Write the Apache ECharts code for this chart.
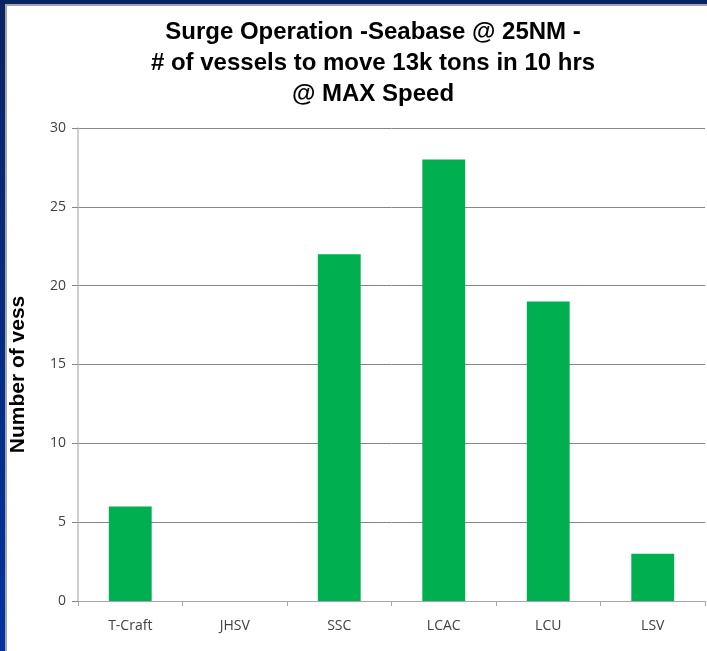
<!DOCTYPE html>
<html>
<head>
<meta charset="utf-8">
<script src="https://cdn.jsdelivr.net/npm/echarts@6/dist/echarts.min.js"></script>
<style>
  html, body { margin: 0; padding: 0; width: 707px; height: 651px; overflow: hidden; }
  body { background: linear-gradient(to bottom, #0a2463 0%, #0033a0 100%); position: relative; }
  .card {
    position: absolute; left: 5px; top: 4px; right: 0; bottom: 0;
    background: #ffffff;
    border-left: 2px solid #a6a6a6;
    border-top: 2px solid #a6a6a6;
  }
  #chart { position: absolute; left: 0; top: 0; width: 707px; height: 651px; }
</style>
</head>
<body>
<div class="card"></div>
<div id="chart"></div>
<script>
// 数据
const categories = ['T-Craft', 'JHSV', 'SSC', 'LCAC', 'LCU', 'LSV'];
const vessels = [6, 0, 22, 28, 19, 3];
const yTicks = [0, 5, 10, 15, 20, 25, 30];

const chart = echarts.init(document.getElementById('chart'));

const option = {
  animation: false,
  title: {
    text: 'Surge Operation -Seabase @ 25NM -\n# of vessels to move 13k tons in 10 hrs\n@ MAX Speed',
    left: 368,
    top: 12,
    textAlign: 'center',
    textStyle: {
      fontFamily: 'Liberation Sans, Arial, sans-serif',
      fontWeight: 'bold',
      fontSize: 24,
      lineHeight: 31,
      color: '#000000'
    }
  },
  grid: { left: 78, right: 2, top: 128, bottom: 50, containLabel: false, outerBoundsMode: 'none' },
  xAxis: {
    type: 'category',
    data: categories,
    axisLine: { lineStyle: { color: '#a6a6a6', width: 1 } },
    axisTick: { show: true, length: 5, lineStyle: { color: '#a6a6a6' } },
    axisLabel: {
      margin: 18,
      fontFamily: 'Open Sans, Noto Sans, sans-serif',
      fontSize: 14,
      color: '#404040'
    }
  },
  yAxis: {
    type: 'value',
    min: yTicks[0],
    max: yTicks[yTicks.length - 1],
    interval: 5,
    name: 'Number of vessels',
    nameLocation: 'middle',
    nameGap: 49,
    // 原图中轴标题被截断
    nameTruncate: { maxWidth: 165, ellipsis: '' },
    nameTextStyle: {
      fontFamily: 'Liberation Sans, Arial, sans-serif',
      fontWeight: 'bold',
      fontSize: 21,
      color: '#000000',
      padding: [0, 20, 0, 0]
    },
    axisLine: { show: true, lineStyle: { color: '#bfbfbf', width: 1.5 } },
    axisTick: { show: true, length: 6, lineStyle: { color: '#868686' } },
    splitLine: { show: true, lineStyle: { color: '#868686', width: 1 } },
    axisLabel: {
      margin: 12,
      fontFamily: 'Open Sans, Noto Sans, sans-serif',
      fontSize: 14,
      color: '#404040'
    }
  },
  series: [
    {
      name: 'Number of vessels',
      type: 'bar',
      data: vessels,
      barWidth: '41%',
      itemStyle: { color: '#00b050' }
    }
  ]
};

chart.setOption(option);
</script>
</body>
</html>
